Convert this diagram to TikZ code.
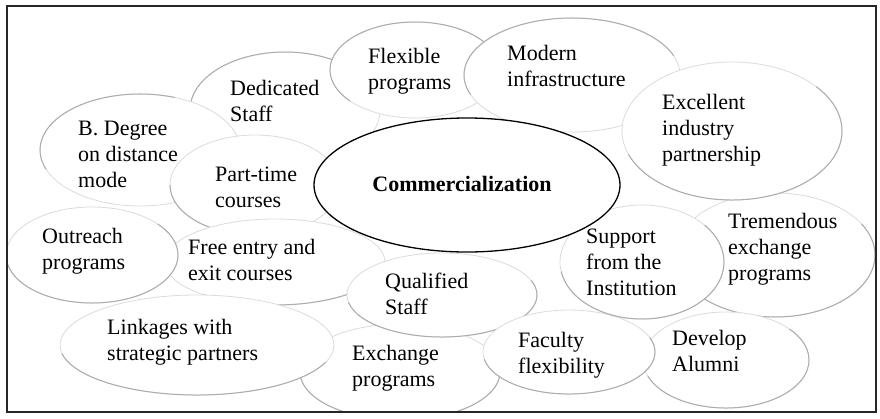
\documentclass[tikz,border=0pt]{standalone}
\usepackage{fontspec}
\setmainfont{Liberation Serif}
\usetikzlibrary{shapes.geometric}
\tikzset{
  bub/.style={ellipse, draw=gray!28, fill=white, line width=0.8pt, inner sep=0pt, outer sep=0pt},
  rim/.style={draw=gray!65, line width=1pt, line cap=round},
  core/.style={ellipse, draw=black, fill=white, line width=1.3pt, inner sep=0pt, outer sep=0pt},
  lbl/.style={align=left, anchor=base west, inner sep=0pt, font=\fontsize{22}{26}\selectfont},
  frame/.style={draw=black!85, line width=1.5pt},
}
% #1 name, #2 cx, #3 cy, #4 rx, #5 ry, #6 start, #7 end (visual angles of the darker rim)
\newcommand\bubblenode[7]{%
  \node[bub, minimum width={2*#4pt}, minimum height={2*#5pt}] (#1) at (#2,#3) {};
  \draw[rim] (#2,#3) ++(-#6:#4 and #5) arc[start angle=-#6, end angle=-#7, x radius=#4, y radius=#5];
}
\begin{document}
\begin{tikzpicture}[x=1pt, y=-1pt]
\useasboundingbox (0,0) rectangle (880,418);
\fill[white] (0,0) rectangle (880,418);
\begin{scope}
\clip (7,6) rectangle (876,412);
\bubblenode{ded}{285}{110}{95}{58}{60}{200}
\bubblenode{flex}{415}{70}{85}{48}{30}{220}
\bubblenode{mod}{572}{75}{108}{57}{20}{200}
\bubblenode{trem}{775}{255}{100}{62}{180}{390}
\bubblenode{exc}{732}{131}{110}{69}{200}{400}
\bubblenode{bdeg}{140}{150}{100}{56}{70}{200}
\bubblenode{part}{255}{185}{85}{50}{180}{260}
\bubblenode{exch}{400}{372}{100}{48}{150}{360}
\bubblenode{free}{275}{262}{110}{43}{230}{340}
\bubblenode{link}{197}{345}{137}{50}{190}{340}
\bubblenode{out}{92}{255}{86}{48}{190}{400}
\bubblenode{qual}{442}{295}{95}{42}{190}{380}
\bubblenode{dev}{726}{360}{83}{48}{200}{400}
\bubblenode{fac}{569}{352}{86}{42}{190}{380}
\bubblenode{sup}{642}{262}{82}{57}{190}{400}
\node[core, minimum width=306pt, minimum height=134pt] (comm) at (467,185) {};
\end{scope}
\draw[frame] (7,6) rectangle (876,412);
\node[lbl] (tded) at (230,121) {Dedicated\\Staff};
\node[lbl] (tbdeg) at (78,187) {B. Degree\\on distance\\mode};
\node[lbl] (tflex) at (368,89) {Flexible\\programs};
\node[lbl] (tmod) at (507,86) {Modern\\infrastructure};
\node[lbl] (texc) at (662,161) {Excellent\\industry\\partnership};
\node[lbl] (tpart) at (215,207) {Part-time\\courses};
\node[lbl, anchor=base, font=\fontsize{22}{26}\selectfont\bfseries] (tcomm) at (462,191) {Commercialization};
\node[lbl] (tout) at (42,269) {Outreach\\programs};
\node[lbl] (tfree) at (188,280) {Free entry and\\exit courses};
\node[lbl] (tlink) at (107,360) {Linkages with\\strategic partners};
\node[lbl] (tqual) at (385,314) {Qualified\\Staff};
\node[lbl] (texch) at (352,386) {Exchange\\programs};
\node[lbl] (tfac) at (518,373) {Faculty\\flexibility};
\node[lbl] (tdev) at (672,371) {Develop\\Alumni};
\node[lbl] (tsup) at (586,295) {Support\\from the\\Institution};
\node[lbl] (ttrem) at (728,280) {Tremendous\\exchange\\programs};
\end{tikzpicture}
\end{document}
